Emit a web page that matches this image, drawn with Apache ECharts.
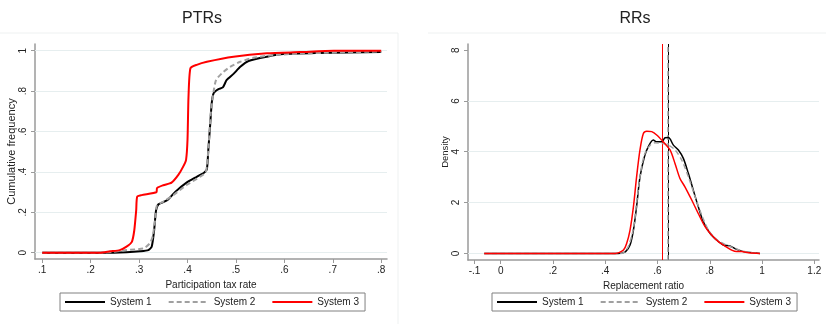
<!DOCTYPE html>
<html><head><meta charset="utf-8">
<script src="https://cdn.jsdelivr.net/npm/echarts@6/dist/echarts.min.js"></script>
<style>html,body{margin:0;padding:0;background:#fff}#c{width:826px;height:324px}</style>
</head><body><div id="c"></div>
<script>
// ---- Data: PTRs (cumulative frequency) ----
const ptrX1 = [0.1,0.247,0.274,0.302,0.319,0.326,0.331,0.335,0.34,0.35,0.36,0.374,0.398,0.419,0.434,0.44,0.443,0.447,0.45,0.454,0.464,0.473,0.481,0.495,0.509,0.526,0.564,0.598,0.667,0.8];
const ptrY1 = [0,0,0.002,0.007,0.013,0.03,0.11,0.21,0.24,0.25,0.264,0.30,0.347,0.376,0.396,0.413,0.51,0.64,0.74,0.79,0.81,0.818,0.855,0.885,0.92,0.949,0.97,0.983,0.988,0.993];
const ptrX2 = [0.1,0.22,0.247,0.274,0.309,0.322,0.328,0.333,0.337,0.35,0.371,0.398,0.426,0.438,0.443,0.448,0.454,0.459,0.471,0.488,0.509,0.536,0.578,0.633,0.8];
const ptrY2 = [0,0,0.005,0.013,0.021,0.046,0.08,0.16,0.236,0.253,0.286,0.335,0.376,0.40,0.51,0.69,0.80,0.855,0.888,0.92,0.945,0.965,0.978,0.986,0.996];
const ptrX3 = [0.1,0.219,0.24,0.26,0.274,0.285,0.29,0.294,0.296,0.305,0.336,0.337,0.35,0.367,0.381,0.391,0.397,0.4,0.402,0.406,0.419,0.44,0.495,0.564,0.633,0.702,0.8];
const ptrY3 = [0,0,0.007,0.013,0.03,0.054,0.11,0.21,0.277,0.285,0.30,0.32,0.334,0.347,0.385,0.426,0.46,0.56,0.77,0.913,0.93,0.945,0.97,0.987,0.993,1.0,1.0];
const ptrXTicks = [0.1,0.2,0.3,0.4,0.5,0.6,0.7,0.8];
const ptrYTicks = [0,0.2,0.4,0.6,0.8,1];

// ---- Data: RRs (density) ----
const rrX1 = [-0.063,0.45,0.463,0.478,0.495,0.508,0.52,0.533,0.55,0.565,0.584,0.597,0.616,0.629,0.642,0.661,0.68,0.699,0.718,0.737,0.756,0.775,0.801,0.827,0.852,0.877,0.903,0.929,0.992];
const rrY1 = [0,0,0.01,0.07,0.33,0.92,1.84,3.0,3.8,4.2,4.46,4.39,4.39,4.55,4.56,4.26,4.07,3.74,3.15,2.49,1.84,1.25,0.79,0.52,0.33,0.29,0.16,0.07,0];
const rrX2 = [-0.063,0.455,0.47,0.488,0.508,0.52,0.537,0.552,0.572,0.59,0.616,0.642,0.667,0.693,0.718,0.744,0.769,0.795,0.82,0.846,0.871,0.897,0.922,0.948,0.992];
const rrY2 = [0,0,0.03,0.26,0.98,1.97,3.28,3.93,4.26,4.35,4.33,4.26,4.07,3.67,3.02,2.23,1.51,0.92,0.59,0.42,0.29,0.2,0.1,0.04,0];
const rrX3 = [-0.063,0.438,0.453,0.47,0.482,0.495,0.508,0.52,0.533,0.546,0.559,0.578,0.597,0.622,0.648,0.667,0.686,0.705,0.731,0.756,0.782,0.807,0.833,0.858,0.884,0.903,0.922,0.948,0.992];
const rrY3 = [0,0,0.03,0.13,0.39,0.92,1.84,3.0,4.07,4.72,4.81,4.79,4.66,4.39,4.07,3.54,2.95,2.62,2.1,1.57,1.05,0.72,0.46,0.29,0.13,0.07,0.07,0.03,0];
const rrMeans = [0.638, 0.643, 0.6226];
const rrXTicks = [-0.1,0,0.2,0.4,0.6,0.8,1,1.2];
const rrYTicks = [0,2,4,6,8];
const rrGrid = [0,2,4,6];

const names = ['System 1','System 2','System 3'];
const colors = ['#000000','#a0a0a0','#ff0000'];
const types = ['solid',[5,3],'solid'];

const fmt = v => { let s = String(Math.round(v*10)/10); return s.replace(/^0\./,'.').replace(/^-0\./,'-.'); };
const pair = (xs,ys) => xs.map((x,i)=>[x,ys[i]]);
const FONT = 'Liberation Sans, Arial, sans-serif';
const axisCol = '#9a9a9a';
const gridCol = '#e6eeef';

function xAx(idx,min,max,ticks,name){
  return {gridIndex:idx,type:'value',min,max,name,nameLocation:'middle',nameGap:17,
    nameTextStyle:{fontFamily:FONT,fontSize:10,color:'#222'},
    axisLine:{show:true,onZero:false,lineStyle:{color:axisCol,width:1.5}},
    axisTick:{show:true,length:4,customValues:ticks,lineStyle:{color:axisCol}},
    axisLabel:{customValues:ticks,formatter:fmt,margin:6,fontFamily:FONT,fontSize:10,color:'#222'},
    splitLine:{show:false}};
}
function yAx(idx,min,max,ticks,name,gap,nfs){
  return {gridIndex:idx,type:'value',min,max,name,nameLocation:'middle',nameGap:gap,nameRotate:90,
    nameTextStyle:{fontFamily:FONT,fontSize:nfs,color:'#222'},
    axisLine:{show:true,onZero:false,lineStyle:{color:axisCol,width:1.5}},
    axisTick:{show:true,length:4,customValues:ticks,lineStyle:{color:axisCol}},
    axisLabel:{customValues:ticks,formatter:fmt,rotate:90,margin:7,fontFamily:FONT,fontSize:10,color:'#222'},
    splitLine:{show:false}};
}
function gridSeries(xi,yi,vals){
  return {type:'line',xAxisIndex:xi,yAxisIndex:yi,data:[],z:1,silent:true,
    markLine:{silent:true,z:1,symbol:'none',label:{show:false},animation:false,
      lineStyle:{color:gridCol,width:1,type:'solid'},data:vals.map(v=>({yAxis:v}))}};
}

const ptrSets = [pair(ptrX1,ptrY1),pair(ptrX2,ptrY2),pair(ptrX3,ptrY3)];
const rrSets = [pair(rrX1,rrY1),pair(rrX2,rrY2),pair(rrX3,rrY3)];

const series = [gridSeries(0,0,ptrYTicks), gridSeries(1,1,rrGrid)];
names.forEach((n,i)=>{
  series.push({name:n,type:'line',xAxisIndex:0,yAxisIndex:0,data:ptrSets[i],showSymbol:false,symbol:'none',
    smooth:0.2,z:3,lineStyle:{color:colors[i],width:2,type:types[i]},itemStyle:{color:colors[i]}});
});
names.forEach((n,i)=>{
  series.push({name:n,type:'line',xAxisIndex:1,yAxisIndex:1,data:rrSets[i],showSymbol:false,symbol:'none',
    smooth:0.3,z:3,lineStyle:{color:colors[i],width:1.5,type:types[i]},itemStyle:{color:colors[i]},
    markLine:{silent:true,z:2,symbol:'none',label:{show:false},animation:false,
      lineStyle:{color:colors[i],width:i===1?1.5:1,type:types[i]},data:[{xAxis:rrMeans[i]}]}});
});

const legendCommon = {data:names,top:293,orient:'horizontal',itemWidth:40,itemHeight:10,itemGap:16,
  padding:[4,6,4,4],borderColor:'#808080',borderWidth:1,
  itemStyle:{opacity:0},
  textStyle:{fontFamily:FONT,fontSize:10,color:'#222',padding:[0,0,0,0]}};

const option = {
  animation:false,
  backgroundColor:'#fff',
  title:[
    {text:'PTRs',left:197,top:6,textAlign:'center',textStyle:{fontFamily:FONT,fontSize:16,fontWeight:'normal',color:'#222'}},
    {text:'RRs',left:630,top:6,textAlign:'center',textStyle:{fontFamily:FONT,fontSize:16,fontWeight:'normal',color:'#222'}}
  ],
  legend:[Object.assign({left:60},legendCommon),Object.assign({left:492},legendCommon)],
  grid:[{left:35,right:439,top:44,bottom:65},{left:468,right:7,top:44,bottom:64}],
  xAxis:[xAx(0,0.085,0.812,ptrXTicks,'Participation tax rate'),xAx(1,-0.125,1.218,rrXTicks,'Replacement ratio')],
  yAxis:[yAx(0,-0.031,1.033,ptrYTicks,'Cumulative frequency',16,11),yAx(1,-0.26,8.24,rrYTicks,'Density',18,9.5)],
  graphic:[
    {type:'polyline',silent:true,z:-1,shape:{points:[[0,33],[398,33],[398,324]]},style:{stroke:'#eef1f1',lineWidth:1,fill:null}},
    {type:'polyline',silent:true,z:-1,shape:{points:[[428,33],[826,33]]},style:{stroke:'#eef1f1',lineWidth:1,fill:null}}
  ],
  series
};
const chart = echarts.init(document.getElementById('c'),null,{renderer:'canvas'});
chart.setOption(option);
</script></body></html>
